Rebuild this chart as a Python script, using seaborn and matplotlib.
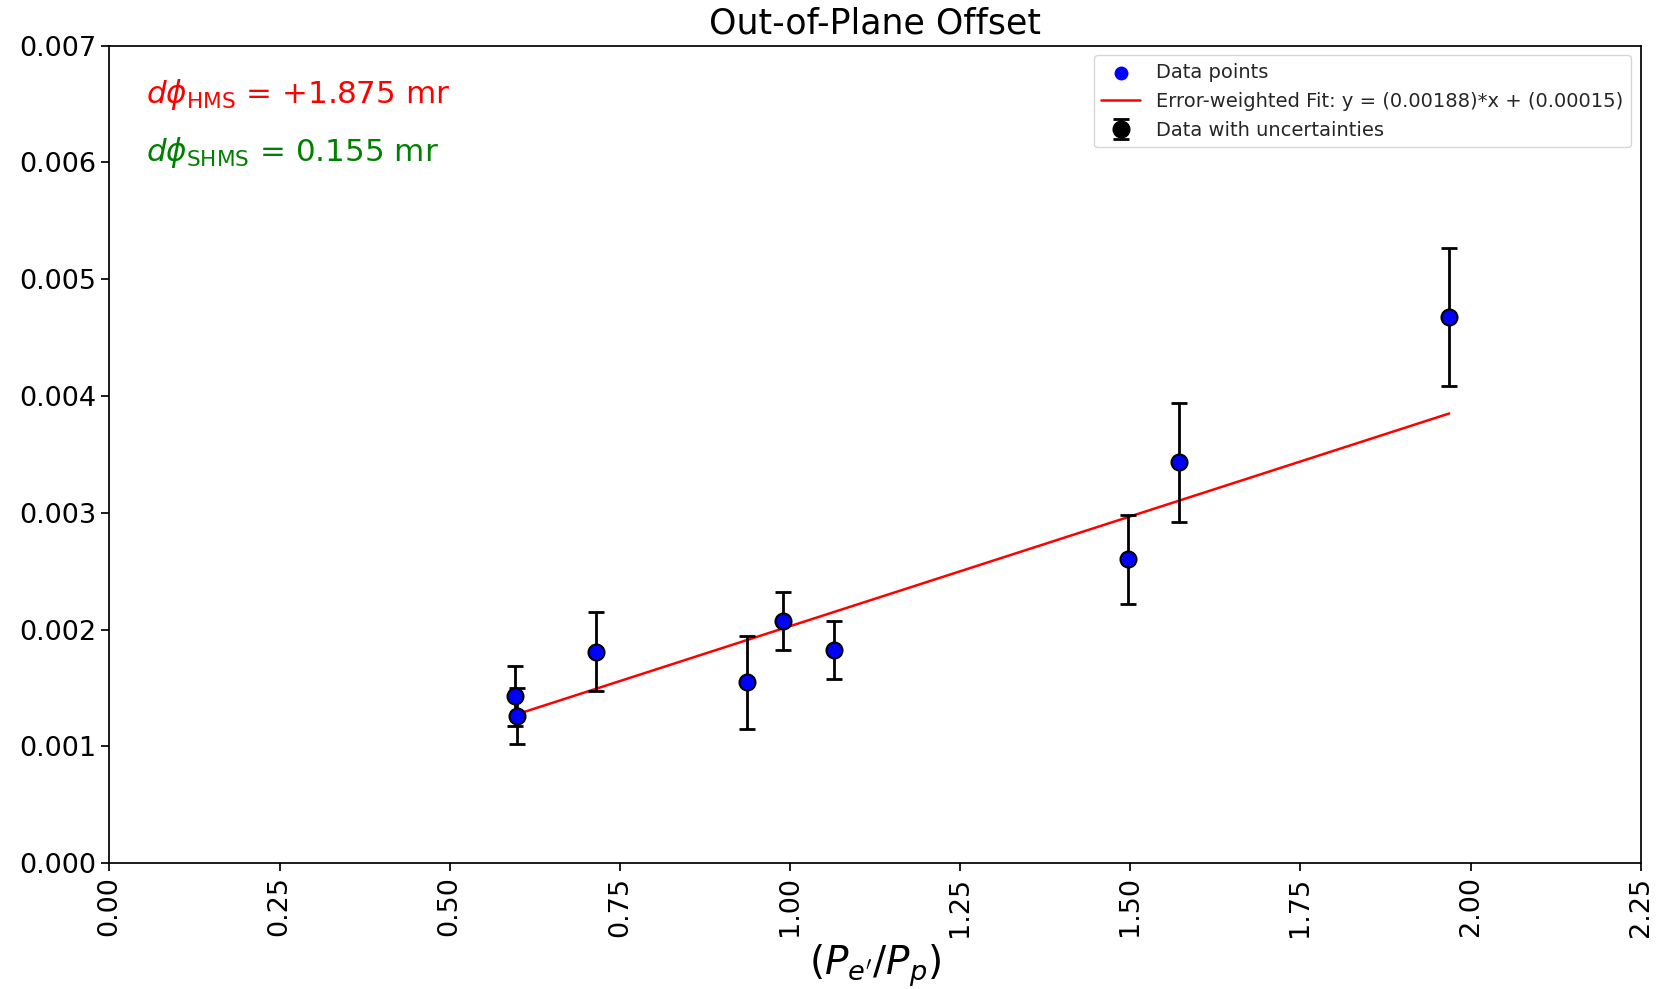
import matplotlib
matplotlib.use("Agg")
import matplotlib.pyplot as plt
import seaborn as sns
import pandas as pd
import numpy as np

sns.set_theme(style="ticks")
plt.rcParams["font.family"] = ["DejaVu Sans"]
plt.rcParams["mathtext.fontset"] = "dejavusans"

# ratios and out-of-plane offsets
ratio = [0.596, 0.599, 0.715, 0.9365, 0.990, 1.064, 1.496, 1.572, 1.9685]
offset = [0.001433, 0.001264, 0.001812, 0.001549, 0.002074, 0.001826, 0.002603, 0.003433, 0.004680]
offset_err = [0.00026, 0.00024, 0.00034, 0.00040, 0.00025, 0.00025, 0.00038, 0.00051, 0.00059]
fit_slope = 0.00188
fit_intercept = 0.00015
x_ticks = [0.0, 0.25, 0.5, 0.75, 1.0, 1.25, 1.5, 1.75, 2.0, 2.25]

df = pd.DataFrame({"ratio": ratio, "offset": offset, "err": offset_err})
fit_x = np.array([min(ratio), max(ratio)])
fit_df = pd.DataFrame({"x": fit_x, "y": fit_slope * fit_x + fit_intercept})

fig, ax = plt.subplots(figsize=(16.65, 9.89), dpi=100)
fig.subplots_adjust(left=0.0657, right=0.9854, top=0.9538, bottom=0.1271)

sns.scatterplot(data=df, x="ratio", y="offset", color="blue", s=100,
                linewidth=0, label="Data points", zorder=4, ax=ax)
sns.lineplot(data=fit_df, x="x", y="y", color="red", linewidth=1.8,
             label=f"Error-weighted Fit: y = ({fit_slope:.5f})*x + ({fit_intercept:.5f})", ax=ax)
ax.errorbar(df["ratio"], df["offset"], yerr=df["err"], fmt="o", color="black",
            markersize=12, capsize=6, elinewidth=2, capthick=2,
            label="Data with uncertainties", zorder=3)

ax.text(0.024, 0.94, r"$d\phi_{\mathrm{HMS}}$ = +1.875 mr", color="red",
        fontsize=22.3, transform=ax.transAxes, va="center")
ax.text(0.024, 0.869, r"$d\phi_{\mathrm{SHMS}}$ = 0.155 mr", color="green",
        fontsize=22.3, transform=ax.transAxes, va="center")

ax.set_xlim(0, 2.25)
ax.set_ylim(0, 0.007)
ax.set_xticks(x_ticks)
ax.tick_params(axis="x", labelrotation=90, labelsize=19.5, colors="black")
ax.tick_params(axis="y", labelsize=19.5, colors="black")
ax.set_xlabel(r"$(P_{e'}/P_p)$", fontsize=28, color="black")
ax.set_ylabel("")
ax.set_title("Out-of-Plane Offset", fontsize=25, color="black", pad=9)
for s in ax.spines.values():
    s.set_color("black")
ax.legend(loc="upper right", fontsize=14, frameon=True)

plt.savefig("out.png", dpi=100)
plt.close()
